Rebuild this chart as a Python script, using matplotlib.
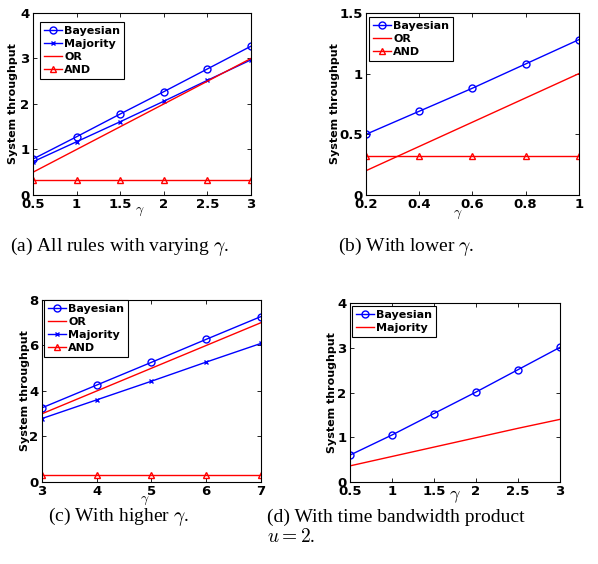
import numpy as np
import matplotlib
matplotlib.use('Agg')
import matplotlib.pyplot as plt

plt.rcParams['font.family'] = ['DejaVu Sans']
plt.rcParams['font.weight'] = 'bold'
plt.rcParams['mathtext.fontset'] = 'cm'

# (a) all rules, varying gamma
g_a = [0.5, 1, 1.5, 2, 2.5, 3]
bay_a = [0.79, 1.28, 1.78, 2.27, 2.77, 3.27]
maj_a = [0.73, 1.17, 1.61, 2.06, 2.52, 2.97]
or_a = [0.5, 1.0, 1.5, 2.0, 2.5, 3.0]
and_a = [0.32, 0.32, 0.32, 0.32, 0.32, 0.32]

# (b) lower gamma
g_b = [0.2, 0.4, 0.6, 0.8, 1.0]
bay_b = [0.50, 0.69, 0.88, 1.08, 1.28]
or_b = [0.2, 0.4, 0.6, 0.8, 1.0]
and_b = [0.32, 0.32, 0.32, 0.32, 0.32]

# (c) higher gamma
g_c = [3, 4, 5, 6, 7]
bay_c = [3.26, 4.26, 5.26, 6.27, 7.27]
or_c = [3, 4, 5, 6, 7]
maj_c = [2.79, 3.61, 4.43, 5.27, 6.09]
and_c = [0.32, 0.32, 0.32, 0.32, 0.32]

# (d) time bandwidth product u = 2
g_d = [0.5, 1, 1.5, 2, 2.5, 3]
bay_d = [0.60, 1.05, 1.53, 2.01, 2.51, 3.01]
maj_d = [0.36, 0.57, 0.78, 0.99, 1.20, 1.40]

captions = ['(a) All rules with varying $\\gamma$.',
            '(b) With lower $\\gamma$.',
            '(c) With higher $\\gamma$.',
            '(d) With time bandwidth product\n$u = 2$.']

fig = plt.figure(figsize=(5.98, 5.64), dpi=100)

def style(ax, xlim, ylim, xt, yt, xt_lbl, yt_lbl, gpos, ylx):
    ax.set_xlim(xlim)
    ax.set_ylim(ylim)
    ax.set_xticks(xt)
    ax.set_yticks(yt)
    ax.set_xticklabels(xt_lbl, fontsize=9.5, fontweight='bold')
    ax.set_yticklabels(yt_lbl, fontsize=9.5, fontweight='bold')
    ax.tick_params(direction='in', top=True, right=True, length=3, width=0.6, pad=2.5)
    for s in ax.spines.values():
        s.set_linewidth(0.8)
    ax.set_ylabel('System throughput', fontsize=8, fontweight='bold')
    ax.yaxis.set_label_coords(ylx, 0.5)
    ax.set_xlabel('$\\gamma$', fontsize=gpos[2])
    ax.xaxis.set_label_coords(gpos[0], gpos[1])

def legend(ax, x, y):
    lg = ax.legend(loc='upper left', bbox_to_anchor=(x, y), borderaxespad=0,
                   fancybox=False, framealpha=1, edgecolor='black',
                   prop={'size': 8, 'weight': 'bold'}, handlelength=1.65,
                   handletextpad=0.2, labelspacing=0.28, borderpad=0.35)
    lg.get_frame().set_linewidth(0.8)

lw = 1.0
ms = 5

ax = fig.add_axes([0.0552, 0.6543, 0.3645, 0.3227])
ax.plot(g_a, bay_a, '-o', color='blue', lw=lw, ms=ms, mfc='none', label='Bayesian')
ax.plot(g_a, maj_a, '-x', color='blue', lw=lw, ms=3.5, label='Majority')
ax.plot(g_a, or_a, '-', color='red', lw=lw, label='OR')
ax.plot(g_a, and_a, '-^', color='red', lw=lw, ms=ms, mfc='none', label='AND')
style(ax, (0.5, 3), (0, 4), g_a, [0, 1, 2, 3, 4],
      ['0.5', '1', '1.5', '2', '2.5', '3'], ['0', '1', '2', '3', '4'],
      (0.49, -0.05, 10), -0.069)
legend(ax, 0.032, 0.95)

ax = fig.add_axes([0.612, 0.6543, 0.356, 0.3227])
ax.plot(g_b, bay_b, '-o', color='blue', lw=lw, ms=ms, mfc='none', label='Bayesian')
ax.plot(g_b, or_b, '-', color='red', lw=lw, label='OR')
ax.plot(g_b, and_b, '-^', color='red', lw=lw, ms=ms, mfc='none', label='AND')
style(ax, (0.2, 1), (0, 1.5), g_b, [0, 0.5, 1, 1.5],
      ['0.2', '0.4', '0.6', '0.8', '1'], ['0', '0.5', '1', '1.5'],
      (0.43, -0.065, 10), -0.122)
legend(ax, 0.014, 0.978)

ax = fig.add_axes([0.0702, 0.1454, 0.366, 0.3227])
ax.plot(g_c, bay_c, '-o', color='blue', lw=lw, ms=ms, mfc='none', label='Bayesian')
ax.plot(g_c, or_c, '-', color='red', lw=lw, label='OR')
ax.plot(g_c, maj_c, '-x', color='blue', lw=lw, ms=3.5, label='Majority')
ax.plot(g_c, and_c, '-^', color='red', lw=lw, ms=ms, mfc='none', label='AND')
style(ax, (3, 7), (0, 8), g_c, [0, 2, 4, 6, 8],
      ['3', '4', '5', '6', '7'], ['0', '2', '4', '6', '8'],
      (0.47, -0.06, 10), -0.055)
legend(ax, 0.009, 1.0)

ax = fig.add_axes([0.585, 0.1454, 0.351, 0.317])
ax.plot(g_d, bay_d, '-o', color='blue', lw=lw, ms=ms, mfc='none', label='Bayesian')
ax.plot(g_d, maj_d, '-', color='red', lw=lw, label='Majority')
style(ax, (0.5, 3), (0, 4), g_d, [0, 1, 2, 3, 4],
      ['0.5', '1', '1.5', '2', '2.5', '3'], ['0', '1', '2', '3', '4'],
      (0.5, -0.03, 13), -0.062)
legend(ax, 0.01, 0.983)

cap = dict(family='Liberation Serif', fontsize=14, fontweight='normal', va='center')
fig.text(10 / 598, 1 - 246 / 564, captions[0], **cap)
fig.text(338 / 598, 1 - 246 / 564, captions[1], **cap)
fig.text(48 / 598, 1 - 516 / 564, captions[2], **cap)
fig.text(267 / 598, 1 - 527 / 564, captions[3], linespacing=1.15, **cap)

fig.savefig('out.png', dpi=100)
